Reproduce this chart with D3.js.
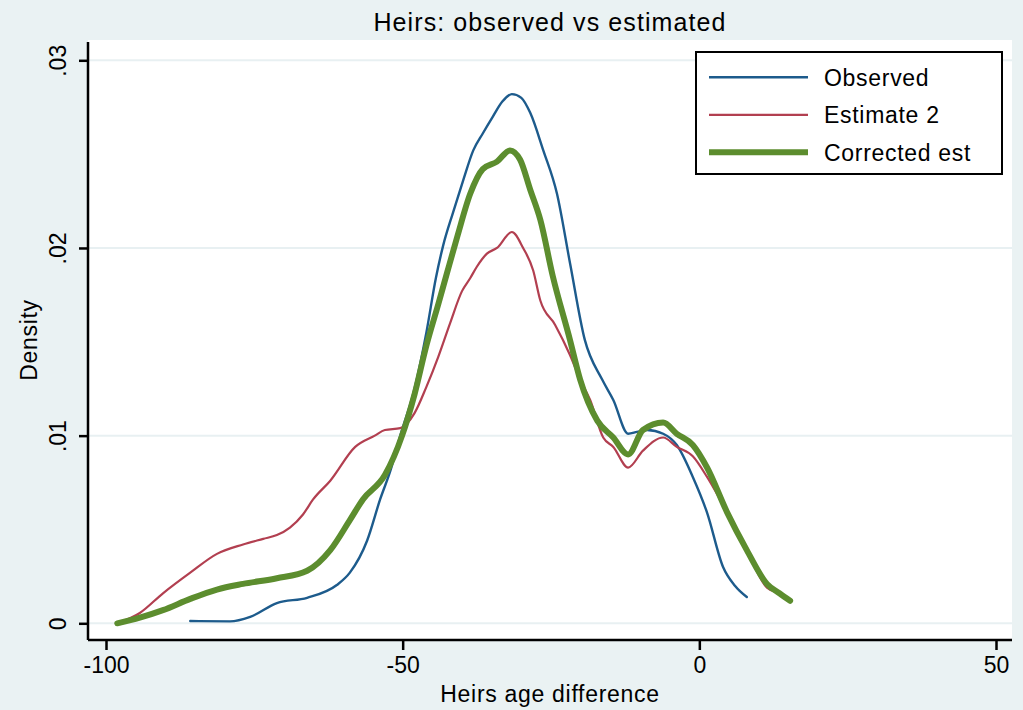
<!DOCTYPE html>
<html>
<head>
<meta charset="utf-8">
<script src="https://cdn.jsdelivr.net/npm/d3@7"></script>
<style>
  body { margin: 0; background: #eaf2f3; }
  svg text { font-family: "Liberation Sans", Arial, Helvetica, sans-serif; fill: #000; }
</style>
</head>
<body>
<svg id="svg" width="1023" height="710"></svg>
<script>
// ---- data
var obsX = [-85.8, -79.1, -75.7, -71.2, -66.1, -61.1, -58.9, -56, -53.8, -52, -50.4, -48, -46, -44.4, -43.2, -41.5, -39.8, -38.1, -36.5, -34.8, -33.2, -31.6, -30, -28.5, -26.3, -24, -21.8, -19.3, -16.4, -14.5, -12, -10.5, -8.8, -6.1, -3.8, -1.1, 1.3, 4, 6, 8];
var obsY = [.00012, .0001, .00034, .00108, .00136, .00204, .0027, .0044, .0066, .0082, .0100, .0125, .0155, .0184, .0201, .0219, .0236, .0252, .0261, .0270, .0278, .0282, .0280, .0272, .0252, .0229, .0192, .0151, .0130, .0119, .0101, .0102, .0103, .0101, .0095, .0078, .0059, .0030, .0020, .0014];

var est2X = [-98.1, -94.3, -90.4, -85.8, -81.3, -76.9, -73.5, -71.2, -69, -66.8, -65.1, -62.2, -58, -54.7, -53, -50.4, -48, -46, -44, -42, -40, -38.6, -37.5, -35.8, -34.1, -31.6, -29.7, -28, -26.8, -24.3, -21.8, -20.1, -18.4, -16.2, -14.5, -12, -9.5, -6.1, -3.8, -1.1, 1.3, 4.7, 8, 11.4, 13.5, 15.3];
var est2Y = [0, .00055, .0016, .0027, .0037, .0042, .0045, .0047, .0051, .0058, .0066, .0076, .0094, .0100, .0103, .0104, .0112, .0126, .0142, .0160, .0177, .0184, .0190, .0197, .0200, .02085, .0200, .0188, .0172, .0159, .0143, .0130, .0119, .0099, .0094, .0083, .0092, .0099, .0094, .0089, .0078, .0059, .0039, .0019, .0016, .0012];

var corrX = [-98.1, -94.3, -90.4, -85.8, -81.3, -76.9, -71.2, -66.1, -62.2, -58.9, -56.7, -53, -50.1, -48, -46, -44, -42.5, -40.8, -38.6, -36.5, -34.1, -31.9, -30.2, -28.5, -26.8, -24.7, -21.8, -20.1, -17.2, -14.5, -12, -9.5, -6.1, -3.8, -1.1, 1.3, 4.7, 8, 11.4, 13.5, 15.3];
var corrY = [0, .0003, .0007, .0013, .0018, .0021, .0024, .0028, .0039, .0055, .0066, .0079, .0100, .0122, .0148, .0170, .0187, .0206, .0229, .0242, .0246, .0252, .0247, .0231, .0215, .0185, .0151, .0130, .0108, .0099, .0090, .0103, .0107, .0101, .0095, .0083, .0059, .0039, .0021, .0016, .0012];

var xTicks = [-100, -50, 0, 50];
var yTicks = [0, .01, .02, .03];
var seriesNames = ["Observed", "Estimate 2", "Corrected est"];

var svg = d3.select("svg#svg");

// plot region (don't call it "top", that's window.top)
var pLeft = 88, pRight = 1012, pTop = 40, pBottom = 640;

var x = d3.scaleLinear().domain([-100, 50]).range([106, 996]);
var y = d3.scaleLinear().domain([0, .03]).range([623.3, 60.3]);

svg.append("rect")
    .attr("x", pLeft).attr("y", pTop)
    .attr("width", pRight - pLeft).attr("height", pBottom - pTop)
    .style("fill", "white");

// - gridlines
svg.selectAll("line.grid").data(yTicks).enter()
    .append("line").attr("class", "grid")
    .attr("x1", pLeft).attr("x2", pRight)
    .attr("y1", function(d) { return y(d); })
    .attr("y2", function(d) { return y(d); })
    .style("stroke", "#e8f0f2")
    .style("stroke-width", 2);

// - series
var series = [
    { name: seriesNames[0], xs: obsX, ys: obsY, color: "#1d5b8c", width: 2.4 },
    { name: seriesNames[1], xs: est2X, ys: est2Y, color: "#b23f50", width: 2.2 },
    { name: seriesNames[2], xs: corrX, ys: corrY, color: "#5c8d2e", width: 6 }
];

var line = d3.line()
    .x(function(d) { return x(d[0]); })
    .y(function(d) { return y(d[1]); })
    .curve(d3.curveMonotoneX);

series.forEach(function(s) {
    var pts = s.xs.map(function(v, i) { return [v, s.ys[i]]; });
    svg.append("path")
        .datum(pts)
        .attr("d", line)
        .style("fill", "none")
        .style("stroke", s.color)
        .style("stroke-width", s.width)
        .style("stroke-linecap", "round")
        .style("stroke-linejoin", "round");
});

// - axes
var xAxis = d3.axisBottom(x).tickValues(xTicks).tickSize(10).tickSizeOuter(0)
    .tickFormat(function(d) { return String(d); });
var gx = svg.append("g").attr("transform", "translate(0," + pBottom + ")").call(xAxis);
gx.select(".domain").remove();
gx.append("line").attr("x1", pLeft).attr("x2", pRight).attr("y1", 0).attr("y2", 0)
    .style("stroke", "#000").style("stroke-width", 2.5);
gx.selectAll(".tick line").style("stroke", "#000").style("stroke-width", 2.5);
gx.selectAll(".tick text")
    .attr("y", 33).attr("dy", 0)
    .style("font-size", "23px")
    .style("font-family", "Liberation Sans, Arial, sans-serif");

var yAxis = d3.axisLeft(y).tickValues(yTicks).tickSize(9).tickSizeOuter(0)
    .tickFormat(function(d) { return d === 0 ? "0" : d3.format(".2f")(d).replace(/^0/, ""); });
var gy = svg.append("g").attr("transform", "translate(" + pLeft + ",0)").call(yAxis);
gy.select(".domain").remove();
gy.append("line").attr("x1", 0).attr("x2", 0).attr("y1", pTop + 2).attr("y2", pBottom)
    .style("stroke", "#000").style("stroke-width", 2.5);
gy.selectAll(".tick line").style("stroke", "#000").style("stroke-width", 2.5);
gy.selectAll(".tick text")
    .attr("x", 0).attr("dy", 0)
    .attr("transform", "translate(-22,0) rotate(-90)")
    .style("text-anchor", "middle")
    .style("font-size", "23px")
    .style("font-family", "Liberation Sans, Arial, sans-serif");

// - titles
svg.append("text")
    .attr("x", 550).attr("y", 31)
    .style("text-anchor", "middle")
    .style("font-size", "25px")
    .style("letter-spacing", "1.1px")
    .text("Heirs: observed vs estimated");

svg.append("text")
    .attr("x", 550).attr("y", 702)
    .style("text-anchor", "middle")
    .style("font-size", "23px")
    .style("letter-spacing", "0.7px")
    .text("Heirs age difference");

svg.append("text")
    .attr("transform", "translate(37," + ((pTop + pBottom) / 2) + ") rotate(-90)")
    .style("text-anchor", "middle")
    .style("font-size", "23px")
    .style("letter-spacing", "0.7px")
    .text("Density");

// - legend
var legend = svg.append("g").attr("transform", "translate(696,52)");
legend.append("rect")
    .attr("width", 306).attr("height", 122)
    .style("fill", "white")
    .style("stroke", "#000")
    .style("stroke-width", 2);

var rows = legend.selectAll("g.row").data(series).enter()
    .append("g").attr("class", "row")
    .attr("transform", function(d, i) { return "translate(0," + (25.3 + i * 37.5) + ")"; });
rows.append("line")
    .attr("x1", 13).attr("x2", 112)
    .style("stroke", function(d) { return d.color; })
    .style("stroke-width", function(d) { return d.width; });
rows.append("text")
    .attr("x", 128).attr("y", 8.5)
    .style("font-size", "23px")
    .style("letter-spacing", "0.7px")
    .text(function(d) { return d.name; });
</script>
</body>
</html>
